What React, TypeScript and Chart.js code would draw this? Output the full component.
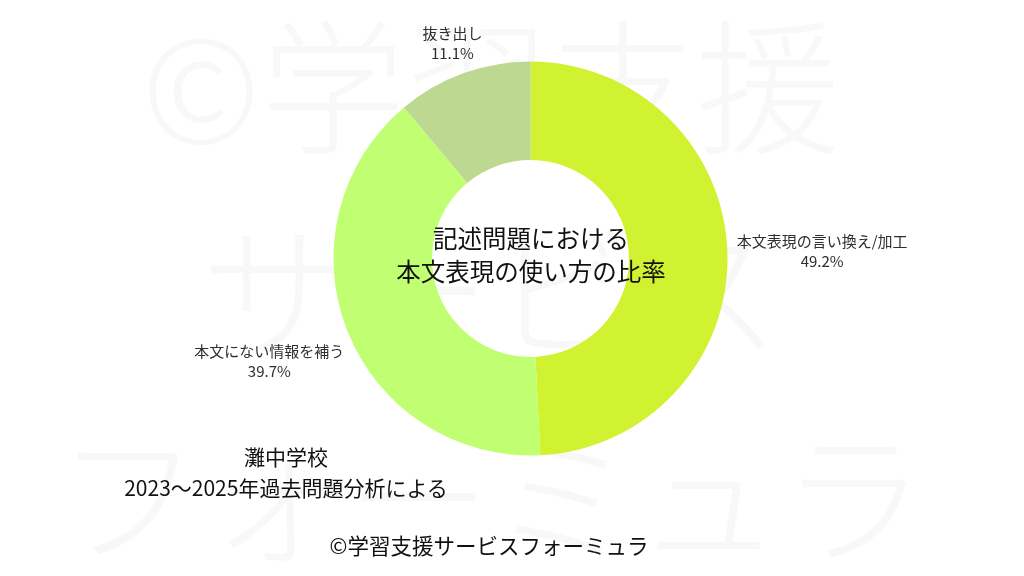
import { useEffect, useRef } from "react";
import { Chart, registerables } from "chart.js";

Chart.register(...registerables);

const categories = ["本文表現の言い換え/加工", "本文にない情報を補う", "抜き出し"];
const shares = [49.2, 39.7, 11.1];
const sliceColors = ["#d1f230", "#c1ff72", "#bcd891"];

const centerTitle = ["記述問題における", "本文表現の使い方の比率"];
const sourceNote = ["灘中学校", "2023〜2025年過去問題分析による"];
const footer = "©学習支援サービスフォーミュラ";
const watermark = ["©学習支援", "サービス", "フォーミュラ"];

const FONT = '"Noto Sans CJK JP", "Noto Sans", sans-serif';

// draws "name / xx.x%" outside each slice
const outsideLabels = {
  id: "outsideLabels",
  afterDatasetsDraw(chart: Chart) {
    const { ctx } = chart;
    const meta = chart.getDatasetMeta(0);
    const values = chart.data.datasets[0].data as number[];
    const total = values.reduce((a, b) => a + b, 0);
    ctx.save();
    ctx.font = `15px ${FONT}`;
    ctx.fillStyle = "#2e2e2e";
    ctx.textAlign = "center";
    ctx.textBaseline = "middle";
    meta.data.forEach((arc: any, i: number) => {
      const { x, y, startAngle, endAngle, outerRadius } = arc.getProps(
        ["x", "y", "startAngle", "endAngle", "outerRadius"],
        true,
      );
      const mid = (startAngle + endAngle) / 2;
      const dx = Math.cos(mid);
      const dy = Math.sin(mid);
      const lines = [
        String(chart.data.labels?.[i] ?? ""),
        ((values[i] / total) * 100).toFixed(1) + "%",
      ];
      const w = Math.max(...lines.map((l) => ctx.measureText(l).width));
      const h = 26;
      const r = outerRadius + 9 + (Math.abs(dx) * w) / 2 + (Math.abs(dy) * h) / 2;
      const cx = x + dx * r;
      const cy = y + dy * r;
      ctx.fillText(lines[0], cx, cy - 10);
      ctx.fillText(lines[1], cx, cy + 10);
    });
    ctx.restore();
  },
};

export default function App() {
  const canvasRef = useRef<HTMLCanvasElement>(null);
  const chartRef = useRef<Chart | null>(null);

  useEffect(() => {
    document.body.style.margin = "0";
    if (!canvasRef.current) return;
    if (chartRef.current) chartRef.current.destroy();

    chartRef.current = new Chart(canvasRef.current, {
      type: "doughnut",
      data: {
        labels: categories,
        datasets: [
          {
            data: shares,
            backgroundColor: sliceColors,
            borderWidth: 0,
          },
        ],
      },
      options: {
        animation: false,
        responsive: true,
        maintainAspectRatio: false,
        cutout: "50%",
        layout: {
          padding: { top: 61.5, bottom: 120.5, left: 333.5, right: 296.5 },
        },
        plugins: {
          legend: { display: false },
          tooltip: { enabled: false },
        },
      },
      plugins: [outsideLabels],
    });

    return () => {
      if (chartRef.current) {
        chartRef.current.destroy();
        chartRef.current = null;
      }
    };
  }, []);

  const wmTops = [80, 284, 490];

  return (
    <div
      style={{
        position: "relative",
        width: 1024,
        height: 576,
        background: "#ffffff",
        overflow: "hidden",
        fontFamily: FONT,
      }}
    >
      {watermark.map((line, i) => (
        <div
          key={line}
          style={{
            position: "absolute",
            left: 0,
            width: 982,
            top: wmTops[i] - 72,
            height: 145,
            lineHeight: "145px",
            fontSize: 145,
            fontWeight: 300,
            textAlign: "center",
            color: "#f8f8f8",
            whiteSpace: "nowrap",
          }}
        >
          {line}
        </div>
      ))}
      <div style={{ position: "absolute", inset: 0 }}>
        <canvas ref={canvasRef} />
      </div>
      <div
        style={{
          position: "absolute",
          left: 331,
          width: 400,
          top: 221,
          textAlign: "center",
          fontSize: 24.5,
          lineHeight: "33px",
          color: "#111111",
          whiteSpace: "nowrap",
        }}
      >
        {centerTitle.map((l) => (
          <div key={l}>{l}</div>
        ))}
      </div>
      <div
        style={{
          position: "absolute",
          left: 86,
          width: 400,
          top: 441,
          textAlign: "center",
          fontSize: 21,
          lineHeight: "31px",
          color: "#111111",
          whiteSpace: "nowrap",
        }}
      >
        {sourceNote.map((l) => (
          <div key={l}>{l}</div>
        ))}
      </div>
      <div
        style={{
          position: "absolute",
          left: 289,
          width: 400,
          top: 530,
          textAlign: "center",
          fontSize: 21.5,
          lineHeight: "30px",
          color: "#111111",
          whiteSpace: "nowrap",
        }}
      >
        {footer}
      </div>
    </div>
  );
}
